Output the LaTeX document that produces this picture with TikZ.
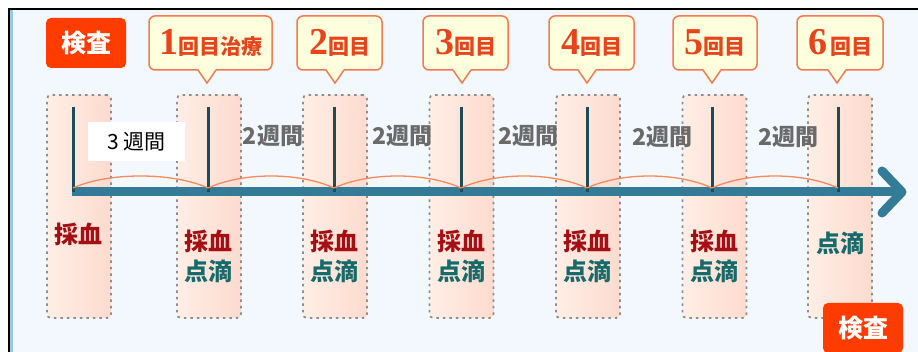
\documentclass[tikz,border=0pt]{standalone}
\usepackage{fontspec}
\newfontfamily\jp{Noto Sans CJK JP}
\newfontfamily\digitf{Liberation Serif}
\usetikzlibrary{calc}
\definecolor{bgblue}{HTML}{F2F8FD}
\definecolor{edgeblue}{HTML}{9CC9E2}
\definecolor{colL}{HTML}{FFEEE6}
\definecolor{colR}{HTML}{FDDBCE}
\definecolor{colgray}{HTML}{8E8E8E}
\definecolor{kensared}{HTML}{FF3C00}
\definecolor{cfill}{HTML}{FFFFDE}
\definecolor{cborder}{HTML}{F47A4F}
\definecolor{ctext}{HTML}{E8441C}
\definecolor{bloodred}{HTML}{A50F14}
\definecolor{tealtxt}{HTML}{176A6A}
\definecolor{graytxt}{HTML}{6A6A6A}
\definecolor{axisblue}{HTML}{347B97}
\definecolor{tickdark}{HTML}{1D4C58}
\definecolor{arcorange}{HTML}{F58A5E}
\newcommand\bigdigit[1]{{\digitf\bfseries\fontsize{38}{38}\selectfont #1}}
\newcommand\kaime[1]{{\jp\bfseries\fontsize{21}{21}\selectfont #1}}
\begin{document}
\begin{tikzpicture}[x=1pt,y=-1pt,
  colbox/.style={rectangle, rounded corners=4pt, draw=colgray, line width=1.8pt,
    dash pattern=on 2.5pt off 4pt, left color=colL, right color=colR,
    minimum width=64pt, minimum height=223pt, inner sep=0pt, outer sep=0pt},
  kensa/.style={rectangle, rounded corners=5pt, fill=kensared, text=white,
    font=\jp\bfseries\fontsize{25}{25}\selectfont, minimum width=80pt,
    minimum height=50pt, inner sep=0pt},
  callout/.style={rectangle, rounded corners=6pt, draw=cborder, line width=1.5pt,
    fill=cfill, text=ctext, minimum height=54pt, inner sep=0pt, outer sep=0pt},
  ptrfill/.style={fill=cfill},
  ptrline/.style={draw=cborder, line width=1.5pt, line join=miter},
  redlbl/.style={text=bloodred, font=\jp\bfseries\fontsize{24}{24}\selectfont, inner sep=0pt},
  teallbl/.style={text=tealtxt, font=\jp\bfseries\fontsize{24}{24}\selectfont, inner sep=0pt},
  weeklbl/.style={text=graytxt, font=\jp\bfseries\fontsize{23}{23}\selectfont, inner sep=0pt},
  tickline/.style={draw=tickdark, line width=3pt},
  axisline/.style={draw=axisblue, line width=9pt},
  arcline/.style={draw=arcorange, line width=1.3pt},
]
\useasboundingbox (0,0) rectangle (918,352);
\fill[white] (0,0) rectangle (918,352);
\fill[bgblue] (9,9) rectangle (918,352);
\draw[edgeblue, line width=2.5pt] (11.5,10) -- (11.5,352);
\draw[black, line width=1.6pt] (9,352) -- (9,9) -- (918,9);

% columns
\node[colbox] (c0) at (79,206.5) {};
\node[colbox] (c1) at (209,206.5) {};
\node[colbox] (c2) at (335,206.5) {};
\node[colbox] (c3) at (461.5,206.5) {};
\node[colbox] (c4) at (588,206.5) {};
\node[colbox] (c5) at (714.5,206.5) {};
\node[colbox] (c6) at (840,206.5) {};

% tick tops and feet
\foreach \i/\x in {0/73,1/208,2/334,3/461,4/587,5/712,6/838}{
  \coordinate (t\i) at (\x,107);
  \coordinate (b\i) at (\x,192);
  \coordinate (f\i) at (\x,188);
}
\coordinate (axs) at (72,192);
\coordinate (aT) at (902,192);
\coordinate (aU) at (882,171);
\coordinate (aL) at (882,213);

% axis
\draw[axisline] (axs) -- (aT);
\draw[axisline, line cap=round, line join=round] (aU) -- (aT) -- (aL);

% ticks
\foreach \i in {0,...,6}{ \draw[tickline] (t\i) -- (b\i); }

% arcs
\foreach \i/\j in {0/1,1/2,2/3,3/4,4/5,5/6}{
  \draw[arcline] (f\i) .. controls +(35,-16) and +(-35,-16) .. (f\j);
}

% week labels
\node[fill=white, minimum width=97pt, minimum height=39pt, inner sep=0pt,
  font=\jp\fontsize{21}{21}\selectfont] (w0) at (136.5,141.5) {3 週間};
\node[weeklbl] (w1) at (273,136) {2週間};
\node[weeklbl] (w2) at (402,136) {2週間};
\node[weeklbl] (w3) at (528,136) {2週間};
\node[weeklbl] (w4) at (662,137) {2週間};
\node[weeklbl] (w5) at (788,137) {2週間};

% column labels
\node[redlbl] (r0) at (78,234) {採血};
\foreach \i/\x in {1/208,2/334.5,3/461,4/587,5/714}{
  \node[redlbl] (r\i) at (\x,241) {採血};
  \node[teallbl] (d\i) at (\x,271) {点滴};
}
\node[teallbl] (d6) at (840,243) {点滴};

% kensa boxes
\node[kensa] (k0) at (86,43) {検査};
\node[kensa] (k7) at (863,328) {検査};

% callouts
\node[callout, minimum width=123pt] (q1) at (210.5,43) {\bigdigit{1}\kaime{回目治療}};
\node[callout, minimum width=85pt] (q2) at (339.5,43) {\bigdigit{2}\kaime{回目}};
\node[callout, minimum width=85pt] (q3) at (465.5,43) {\bigdigit{3}\kaime{回目}};
\node[callout, minimum width=85pt] (q4) at (591.5,43) {\bigdigit{4}\kaime{回目}};
\node[callout, minimum width=84pt] (q5) at (715,43) {\bigdigit{5}\kaime{回目}};
\node[callout, minimum width=86pt] (q6) at (840,43) {\bigdigit{6}\hspace{3pt}\kaime{回目}};

\foreach \i/\x in {1/207,2/335,3/462,4/587,5/712,6/837}{
  \coordinate (p\i) at (\x,83);
  \fill[ptrfill] ($(p\i |- q\i.south)+(-9,-1.2)$) -- (p\i) -- ($(p\i |- q\i.south)+(9,-1.2)$) -- cycle;
  \draw[ptrline] ($(p\i |- q\i.south)+(-9,0)$) -- (p\i) -- ($(p\i |- q\i.south)+(9,0)$);
}
\end{tikzpicture}
\end{document}
